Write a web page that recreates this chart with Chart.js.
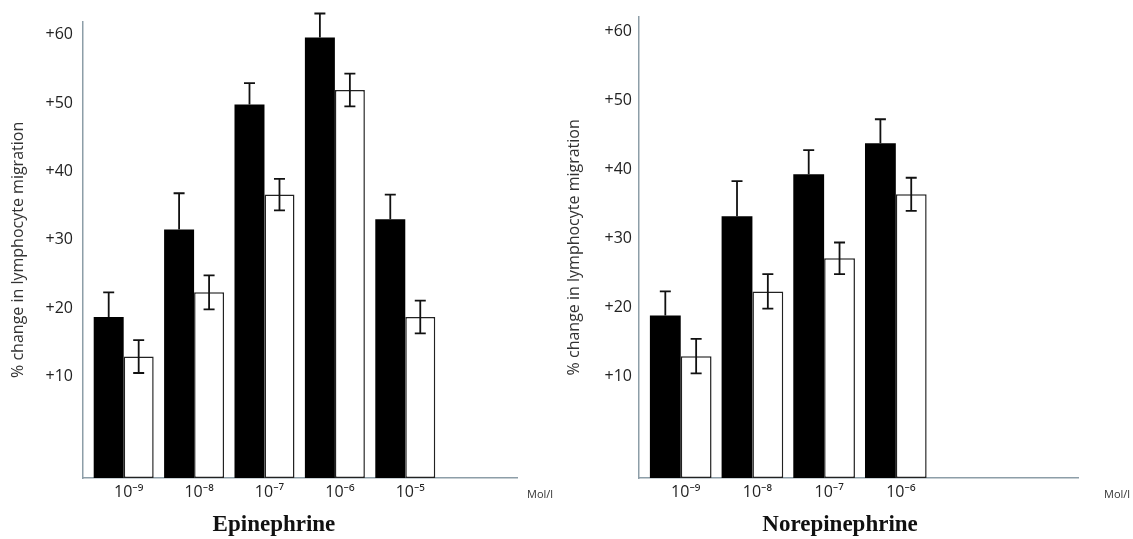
<!DOCTYPE html>
<html>
<head>
<meta charset="utf-8">
<script src="https://cdn.jsdelivr.net/npm/chart.js@4/dist/chart.umd.min.js"></script>
<style>
  body { margin: 0; background: #fff; }
  canvas { position: absolute; top: 0; }
  #epi { left: 0; }
  #nor { left: 560px; }
</style>
</head>
<body>
<canvas id="epi" width="560" height="539"></canvas>
<canvas id="nor" width="573" height="539"></canvas>
<script>
// concentrations (mol/l)
const epiCats = ['10⁻⁹', '10⁻⁸', '10⁻⁷', '10⁻⁶', '10⁻⁵'];
const norCats = ['10⁻⁹', '10⁻⁸', '10⁻⁷', '10⁻⁶'];

// % change in lymphocyte migration, black and white bars, with error
const epiBlack = [18.7, 31.5, 49.8, 59.6, 33.0];
const epiBlackErr = [3.6, 5.3, 3.1, 3.5, 3.6];
const epiWhite = [12.9, 22.3, 36.6, 51.9, 18.7];
const epiWhiteErr = [2.4, 2.5, 2.3, 2.4, 2.4];

const norBlack = [18.8, 33.2, 39.3, 43.8];
const norBlackErr = [3.5, 5.1, 3.5, 3.5];
const norWhite = [12.9, 22.3, 27.1, 36.4];
const norWhiteErr = [2.5, 2.5, 2.3, 2.4];

const yTicks = [10, 20, 30, 40, 50, 60];

const AXIS = '#8d9ea8';
const SANS = '"Open Sans", "Noto Sans", sans-serif';

// black bars only show the upper half of the error bar
const errorBars = {
	id: 'errorBars',
	afterDatasetsDraw(chart) {
		const { ctx } = chart;
		const y = chart.scales.y;
		ctx.save();
		ctx.strokeStyle = '#111';
		ctx.lineWidth = 1.8;
		chart.data.datasets.forEach((ds, i) => {
			chart.getDatasetMeta(i).data.forEach((bar, j) => {
				const v = ds.data[j].y, e = ds.errors[j];
				const top = y.getPixelForValue(v + e);
				const bot = ds.upperOnly ? y.getPixelForValue(v) : y.getPixelForValue(v - e);
				ctx.beginPath();
				ctx.moveTo(bar.x, top); ctx.lineTo(bar.x, bot);
				ctx.moveTo(bar.x - 5.5, top); ctx.lineTo(bar.x + 5.5, top);
				if (!ds.upperOnly) { ctx.moveTo(bar.x - 5.5, bot); ctx.lineTo(bar.x + 5.5, bot); }
				ctx.stroke();
			});
		});
		ctx.restore();
	}
};

const captions = {
	id: 'captions',
	afterDraw(chart, args, o) {
		const { ctx, chartArea: a } = chart;
		ctx.save();
		ctx.fillStyle = '#111';
		ctx.textBaseline = 'middle';
		ctx.textAlign = 'center';
		ctx.font = 'bold 23px "Liberation Serif", serif';
		ctx.fillText(o.title, a.left + o.titleAt * (a.right - a.left), a.bottom + 47);
		ctx.textAlign = 'left';
		ctx.fillStyle = '#333';
		ctx.font = '11px ' + SANS;
		ctx.fillText('Mol/l', a.right + o.unitGap, a.bottom + 17);
		ctx.restore();
	}
};

function makeChart(id, cats, black, blackErr, white, whiteErr, p) {
	const pts = arr => arr.map((v, i) => ({ x: i, y: v }));
	return new Chart(document.getElementById(id), {
		type: 'bar',
		data: {
			datasets: [
				{ data: pts(black), errors: blackErr, upperOnly: true, base: p.yMin, backgroundColor: '#000', borderWidth: 0 },
				{ data: pts(white), errors: whiteErr, base: p.yMin, backgroundColor: '#fff', borderColor: '#222', borderWidth: 1.5, borderSkipped: false }
			]
		},
		options: {
			responsive: false, animation: false, devicePixelRatio: 1,
			categoryPercentage: p.catPct, barPercentage: 1,
			layout: { padding: { left: 0, top: p.top, right: p.right, bottom: 0 } },
			plugins: {
				legend: { display: false }, tooltip: { enabled: false },
				captions: { title: p.title, titleAt: p.titleAt, unitGap: p.unitGap }
			},
			scales: {
				x: {
					type: 'linear', min: p.xMin, max: p.xMax, offset: false,
					afterBuildTicks: s => { s.ticks = cats.map((c, i) => ({ value: i })); },
					afterFit: s => { s.height = 61; },
					grid: { display: false, drawTicks: false },
					border: { display: true, color: AXIS, width: 1.5 },
					ticks: { padding: 5, labelOffset: 5, autoSkip: false, maxRotation: 0, callback: v => cats[v], color: '#222', font: { family: SANS, size: 16 } }
				},
				y: {
					min: p.yMin, max: p.yMax,
					afterBuildTicks: s => { s.ticks = yTicks.map(v => ({ value: v })); },
					afterFit: s => { s.width = p.yWidth; },
					grid: { display: false, drawTicks: false },
					border: { display: true, color: AXIS, width: 1.5 },
					ticks: { padding: p.tickPad, callback: v => '+' + v, color: '#222', font: { family: SANS, size: 16 } },
					title: { display: true, text: '% change in lymphocyte migration', color: '#333', padding: { top: p.titlePad, bottom: 0 }, font: { family: SANS, size: 16 } }
				}
			}
		},
		plugins: [errorBars, captions]
	});
}

makeChart('epi', epiCats, epiBlack, epiBlackErr, epiWhite, epiWhiteErr, {
	yMin: -4.86, yMax: 61.9, xMin: -0.578, xMax: 5.587, catPct: 0.852,
	top: 21.7, right: 43, yWidth: 83, tickPad: 10, titlePad: 9,
	title: 'Epinephrine', titleAt: 0.44, unitGap: 10
});

makeChart('nor', norCats, norBlack, norBlackErr, norWhite, norWhiteErr, {
	yMin: -4.79, yMax: 62.2, xMin: -0.582, xMax: 5.541, catPct: 0.86,
	top: 15, right: 55, yWidth: 79, tickPad: 7, titlePad: 5,
	title: 'Norepinephrine', titleAt: 0.458, unitGap: 26
});
</script>
</body>
</html>
